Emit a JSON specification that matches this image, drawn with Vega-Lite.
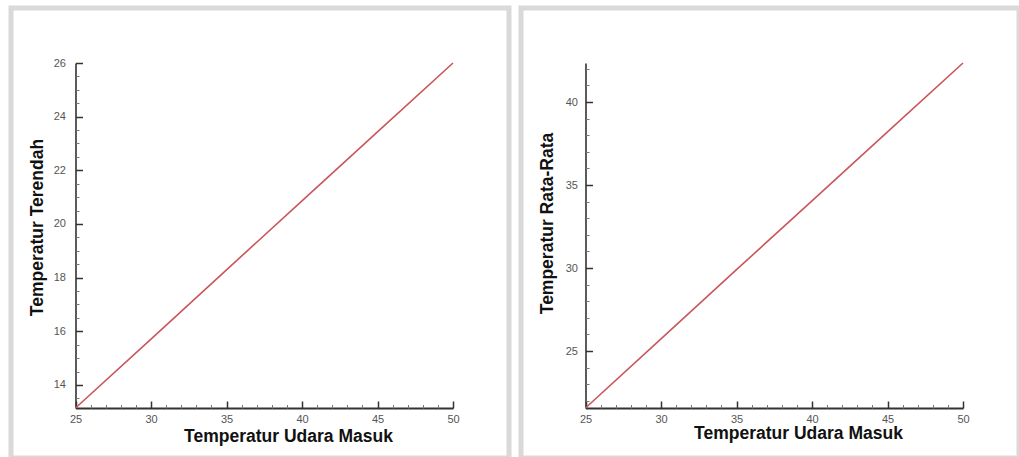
{
  "$schema": "https://vega.github.io/schema/vega-lite/v6.json",
  "padding": {"left": 8, "top": 5, "right": 0, "bottom": 0},
  "background": "white",
  "spacing": 6,
  "datasets": {
    "lowest": [
      {"inlet": 25, "temp": 13.14},
      {"inlet": 30, "temp": 15.71},
      {"inlet": 35, "temp": 18.29},
      {"inlet": 40, "temp": 20.86},
      {"inlet": 45, "temp": 23.43},
      {"inlet": 50, "temp": 26.0}
    ],
    "average": [
      {"inlet": 25, "temp": 21.57},
      {"inlet": 30, "temp": 25.73},
      {"inlet": 35, "temp": 29.9},
      {"inlet": 40, "temp": 34.05},
      {"inlet": 45, "temp": 38.2},
      {"inlet": 50, "temp": 42.35}
    ]
  },
  "config": {
    "view": {"stroke": "#d9d9d9", "strokeWidth": 5},
    "font": "Liberation Sans",
    "axis": {
      "grid": false,
      "labelFont": "Liberation Sans",
      "titleFont": "Liberation Sans",
      "labelFontSize": 11,
      "labelColor": "#555555",
      "labelFlush": false,
      "titleFontSize": 17.5,
      "titleFontWeight": "bold",
      "titleColor": "#111111",
      "domainColor": "#333333",
      "tickColor": "#333333"
    }
  },
  "hconcat": [
    {
      "width": 498,
      "height": 450,
      "data": {"name": "lowest"},
      "layer": [
        {
          "mark": {"type": "line", "color": "#c9575a", "strokeWidth": 1.6},
          "encoding": {
            "x": {
              "field": "inlet", "type": "quantitative",
              "scale": {"domain": [25, 50], "range": [64.5, 442], "nice": false, "zero": false},
              "axis": {"orient": "bottom", "offset": -50, "values": [25, 30, 35, 40, 45, 50], "ticks": false, "domainWidth": 2, "labelPadding": 5, "labelBaseline": "top",
                "title": "Temperatur Udara Masuk", "titleX": 277, "titleY": 33, "titleBaseline": "alphabetic", "titleAnchor": "start", "titleAlign": "center"}
            },
            "y": {
              "field": "temp", "type": "quantitative",
              "scale": {"domain": [13.14, 26], "range": [400, 55], "nice": false, "zero": false},
              "axis": {"orient": "left", "offset": -64.5, "values": [14, 16, 18, 20, 22, 24, 26], "ticks": false, "domainWidth": 1.6, "labelPadding": 10,
                "title": "Temperatur Terendah", "titleX": -33, "titleY": 219, "titleAngle": -90, "titleBaseline": "alphabetic", "titleAlign": "center", "titleAnchor": "start"}
            }
          }
        },
        {
          "mark": {"type": "line", "opacity": 0},
          "encoding": {
            "x": {"field": "inlet", "type": "quantitative",
              "axis": {"orient": "bottom", "offset": -50, "values": [25, 30, 35, 40, 45, 50], "labels": false, "domain": false, "title": null, "tickSize": -7, "tickWidth": 1.5}},
            "y": {"field": "temp", "type": "quantitative",
              "axis": {"orient": "left", "offset": -64.5, "values": [14, 16, 18, 20, 22, 24, 26], "labels": false, "domain": false, "title": null, "tickSize": -7, "tickWidth": 1.5}}
          }
        },
        {
          "mark": {"type": "line", "opacity": 0},
          "encoding": {
            "x": {"field": "inlet", "type": "quantitative",
              "axis": {"orient": "bottom", "offset": -50, "values": [26, 27, 28, 29, 31, 32, 33, 34, 36, 37, 38, 39, 41, 42, 43, 44, 46, 47, 48, 49], "labels": false, "domain": false, "title": null, "tickSize": -3.5, "tickWidth": 1, "tickColor": "#777777"}},
            "y": {"field": "temp", "type": "quantitative",
              "axis": {"orient": "left", "offset": -64.5, "values": [13.5, 14.5, 15, 15.5, 16.5, 17, 17.5, 18.5, 19, 19.5, 20.5, 21, 21.5, 22.5, 23, 23.5, 24.5, 25, 25.5], "labels": false, "domain": false, "title": null, "tickSize": -3.5, "tickWidth": 1, "tickColor": "#777777"}}
          }
        }
      ],
      "resolve": {"axis": {"x": "independent", "y": "independent"}}
    },
    {
      "width": 498,
      "height": 450,
      "data": {"name": "average"},
      "layer": [
        {
          "mark": {"type": "line", "color": "#c9575a", "strokeWidth": 1.6},
          "encoding": {
            "x": {
              "field": "inlet", "type": "quantitative",
              "scale": {"domain": [25, 50], "range": [64.5, 442], "nice": false, "zero": false},
              "axis": {"orient": "bottom", "offset": -50, "values": [25, 30, 35, 40, 45, 50], "ticks": false, "domainWidth": 2, "labelPadding": 5, "labelBaseline": "top",
                "title": "Temperatur Udara Masuk", "titleX": 277, "titleY": 30, "titleBaseline": "alphabetic", "titleAnchor": "start", "titleAlign": "center"}
            },
            "y": {
              "field": "temp", "type": "quantitative",
              "scale": {"domain": [21.57, 42.35], "range": [400, 55], "nice": false, "zero": false},
              "axis": {"orient": "left", "offset": -64.5, "values": [25, 30, 35, 40], "ticks": false, "domainWidth": 1.6, "labelPadding": 8,
                "title": "Temperatur Rata-Rata", "titleX": -33, "titleY": 215, "titleAngle": -90, "titleBaseline": "alphabetic", "titleAlign": "center", "titleAnchor": "start"}
            }
          }
        },
        {
          "mark": {"type": "line", "opacity": 0},
          "encoding": {
            "x": {"field": "inlet", "type": "quantitative",
              "axis": {"orient": "bottom", "offset": -50, "values": [25, 30, 35, 40, 45, 50], "labels": false, "domain": false, "title": null, "tickSize": -7, "tickWidth": 1.5}},
            "y": {"field": "temp", "type": "quantitative",
              "axis": {"orient": "left", "offset": -64.5, "values": [25, 30, 35, 40], "labels": false, "domain": false, "title": null, "tickSize": -7, "tickWidth": 1.5}}
          }
        },
        {
          "mark": {"type": "line", "opacity": 0},
          "encoding": {
            "x": {"field": "inlet", "type": "quantitative",
              "axis": {"orient": "bottom", "offset": -50, "values": [26, 27, 28, 29, 31, 32, 33, 34, 36, 37, 38, 39, 41, 42, 43, 44, 46, 47, 48, 49], "labels": false, "domain": false, "title": null, "tickSize": -3.5, "tickWidth": 1, "tickColor": "#777777"}},
            "y": {"field": "temp", "type": "quantitative",
              "axis": {"orient": "left", "offset": -64.5, "values": [22, 23, 24, 26, 27, 28, 29, 31, 32, 33, 34, 36, 37, 38, 39, 41, 42], "labels": false, "domain": false, "title": null, "tickSize": -3.5, "tickWidth": 1, "tickColor": "#777777"}}
          }
        }
      ],
      "resolve": {"axis": {"x": "independent", "y": "independent"}}
    }
  ]
}
